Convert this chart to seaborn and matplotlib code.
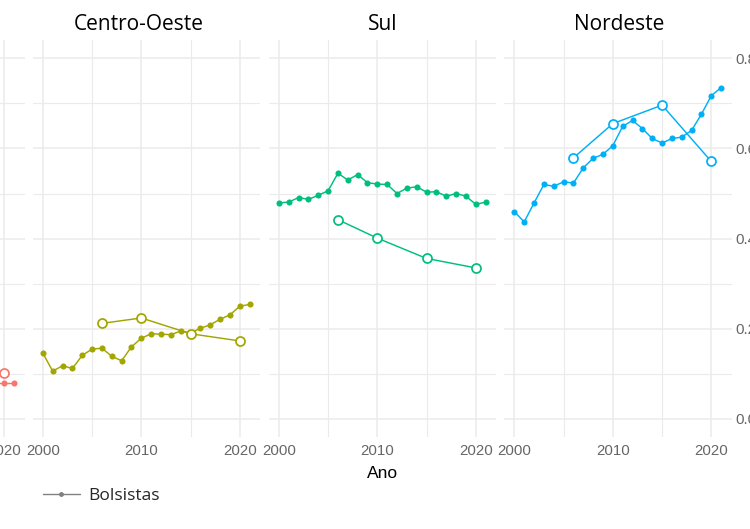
import matplotlib
matplotlib.use('Agg')
import matplotlib.pyplot as plt
from matplotlib.lines import Line2D
from matplotlib.ticker import MultipleLocator, FormatStrFormatter
import seaborn as sns
import pandas as pd

# ---------------- data ----------------
anos = list(range(2000, 2022))
anos_circ = [2006, 2010, 2015, 2020]

regioes = ['Norte', 'Centro-Oeste', 'Sul', 'Nordeste']
cores = ['#F8766D', '#A3A500', '#00BF7D', '#00B0F6']

norte_anos = [2019, 2020, 2021]
norte_bolsistas = [0.079, 0.079, 0.079]
norte_circ_anos = [2020]
norte_circ = [0.101]

co_bolsistas = [0.146, 0.106, 0.118, 0.112, 0.141, 0.155, 0.157, 0.139, 0.129, 0.160,
                0.179, 0.189, 0.188, 0.187, 0.195, 0.191, 0.201, 0.209, 0.221, 0.231,
                0.250, 0.254]
co_circ = [0.212, 0.224, 0.189, 0.173]

sul_bolsistas = [0.479, 0.481, 0.491, 0.487, 0.496, 0.506, 0.545, 0.530, 0.542, 0.524,
                 0.521, 0.520, 0.500, 0.512, 0.515, 0.503, 0.504, 0.494, 0.500, 0.494,
                 0.476, 0.481]
sul_circ = [0.442, 0.401, 0.356, 0.335]

ne_bolsistas = [0.460, 0.437, 0.479, 0.520, 0.516, 0.526, 0.523, 0.557, 0.578, 0.587,
                0.606, 0.649, 0.662, 0.644, 0.622, 0.612, 0.622, 0.625, 0.640, 0.676,
                0.717, 0.735]
ne_circ = [0.579, 0.655, 0.696, 0.571]

xticks = [2000, 2010, 2020]
yticks = [0.0, 0.2, 0.4, 0.6, 0.8]
titulos = {'Centro-Oeste': 0.465, 'Sul': 0.503, 'Nordeste': 0.505}

# build long tables
rows_b = []
rows_c = []
for reg, xs, ys in [('Norte', norte_anos, norte_bolsistas), ('Centro-Oeste', anos, co_bolsistas),
                    ('Sul', anos, sul_bolsistas), ('Nordeste', anos, ne_bolsistas)]:
    for x, y in zip(xs, ys):
        rows_b.append({'Regiao': reg, 'Ano': x, 'Valor': y})
for reg, xs, ys in [('Norte', norte_circ_anos, norte_circ), ('Centro-Oeste', anos_circ, co_circ),
                    ('Sul', anos_circ, sul_circ), ('Nordeste', anos_circ, ne_circ)]:
    for x, y in zip(xs, ys):
        rows_c.append({'Regiao': reg, 'Ano': x, 'Valor': y})
df_b = pd.DataFrame(rows_b)
df_c = pd.DataFrame(rows_c)

# ---------------- style ----------------
sns.set_style('white')
plt.rcParams['font.family'] = ['Liberation Sans', 'DejaVu Sans']

W, H = 750, 529
fig = plt.figure(figsize=(7.5, 5.29), dpi=100)

lefts = [-203, 32.5, 268.5, 504]
pw = 227.5
pb = H - 437
ph = 396.8

grid_col = '#EBEBEB'
tick_col = '#666666'

for i, (reg, cor) in enumerate(zip(regioes, cores)):
    ax = fig.add_axes([lefts[i] / W, pb / H, pw / W, ph / H])
    ax.set_axisbelow(True)
    sub_b = df_b[df_b['Regiao'] == reg]
    sub_c = df_c[df_c['Regiao'] == reg]
    sns.lineplot(data=sub_b, x='Ano', y='Valor', color=cor, marker='o', markersize=4.4,
                 markeredgewidth=0, markeredgecolor=cor, lw=1.05, errorbar=None, ax=ax)
    sns.lineplot(data=sub_c, x='Ano', y='Valor', color=cor, marker='o', markersize=6.5,
                 markerfacecolor='white', markeredgecolor=cor, markeredgewidth=1.25,
                 lw=1.05, errorbar=None, ax=ax)
    ax.set_xlim(1998.95, 2022.05)
    ax.set_ylim(-0.04, 0.84)
    ax.set_xticks(xticks)
    ax.xaxis.set_minor_locator(MultipleLocator(5))
    ax.set_yticks(yticks)
    ax.yaxis.set_minor_locator(MultipleLocator(0.1))
    ax.grid(which='major', color=grid_col, lw=1.1)
    ax.grid(which='minor', color=grid_col, lw=0.8)
    for s in ax.spines.values():
        s.set_visible(False)
    ax.tick_params(which='both', length=0)
    ax.tick_params(axis='x', labelsize=10.8, colors=tick_col, pad=5)
    ax.set_ylabel('')
    if reg == 'Nordeste':
        ax.yaxis.tick_right()
        ax.yaxis.set_major_formatter(FormatStrFormatter('%.1f'))
        ax.tick_params(axis='y', labelsize=10.8, colors=tick_col, pad=3)
    else:
        ax.tick_params(axis='y', labelleft=False, labelright=False)
    if reg == 'Sul':
        ax.set_xlabel('Ano', fontsize=12.5, color='black', labelpad=6)
    else:
        ax.set_xlabel('')
    if reg in titulos:
        ax.set_title(reg, x=titulos[reg], pad=7.5, fontsize=15, family='Open Sans',
                     color='black')

handle = Line2D([], [], color='#808080', lw=1.0, marker='o', markersize=3.5,
                markeredgewidth=0)
fig.legend(handles=[handle], labels=['Bolsistas'], loc='center left',
           bbox_to_anchor=(42.7 / W, (H - 496) / H), frameon=False, borderpad=0,
           borderaxespad=0, handlelength=2.15, handletextpad=0.5,
           prop={'family': 'Open Sans', 'size': 12.5})

fig.savefig('out.png', dpi=100)
